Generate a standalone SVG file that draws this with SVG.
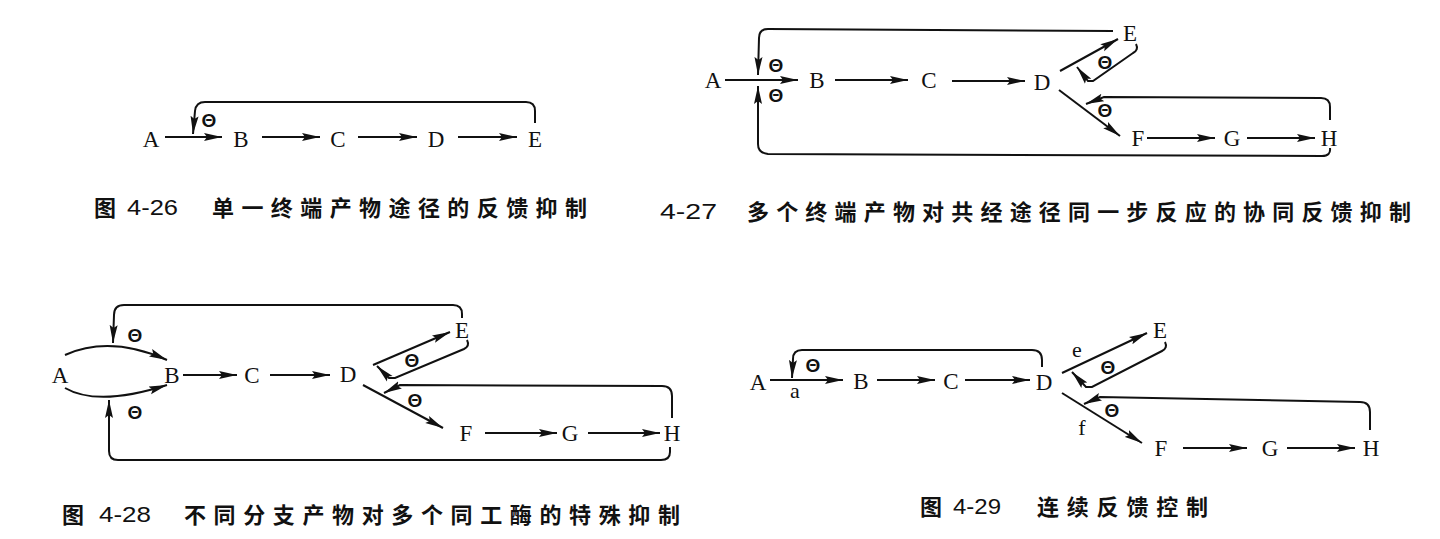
<svg xmlns="http://www.w3.org/2000/svg" width="1440" height="539" viewBox="0 0 1440 539">
<defs>
<style>
.n{font-family:"Liberation Serif","Times New Roman",serif;font-size:23px;fill:#111;text-anchor:middle}
.s{font-family:"Liberation Serif","Times New Roman",serif;font-size:22px;fill:#111;text-anchor:middle}
.th{font-family:"Liberation Sans",Arial,sans-serif;font-size:19px;font-weight:bold;fill:#111;text-anchor:middle}
.c{stroke:#111;stroke-width:2;fill:none;marker-end:url(#ah)}
.cap{font-family:"Noto Sans CJK SC","Noto Sans",sans-serif;font-size:22px;font-weight:bold;fill:#111}
.num{font-family:"Liberation Sans",Arial,sans-serif;font-size:22px;fill:#111}
</style>
<marker id="ah" viewBox="0 0 18 9" refX="18" refY="4.5" markerWidth="18" markerHeight="9" markerUnits="userSpaceOnUse" orient="auto">
<path d="M0,0.5 L18,4.5 L0,8.5 L3,4.5 z" fill="#111"/>
</marker>
</defs>
<rect width="1440" height="539" fill="#fff"/>

<!-- Diagram 4-26 -->
<g id="fig26">
<g id="f26-A"><text class="n" x="151" y="147">A</text></g>
<g id="f26-B"><text class="n" x="241" y="147">B</text></g>
<g id="f26-C"><text class="n" x="338" y="147">C</text></g>
<g id="f26-D"><text class="n" x="436" y="147">D</text></g>
<g id="f26-E"><text class="n" x="535" y="147">E</text></g>
<g id="f26-connectors">
<path class="c" d="M165,137 L222,137"/>
<path class="c" d="M262,137 L320,137"/>
<path class="c" d="M358,137 L417,137"/>
<path class="c" d="M458,137 L517,137"/>
<path class="c" d="M535,123 V111 Q535,102 526,102 H205 Q196,102 195,111 L193,134"/>
<text class="th" x="209" y="127">Θ</text>
</g>
<text class="cap" x="94" y="216">图</text>
<text class="num" x="127" y="215" textLength="51" lengthAdjust="spacingAndGlyphs">4-26</text>
<text class="cap" x="212" y="216" textLength="375" lengthAdjust="spacing">单一终端产物途径的反馈抑制</text>
</g>

<!-- Diagram 4-27 -->
<g id="fig27">
<g id="f27-A"><text class="n" x="713" y="88">A</text></g>
<g id="f27-B"><text class="n" x="817" y="88">B</text></g>
<g id="f27-C"><text class="n" x="929" y="88">C</text></g>
<g id="f27-D"><text class="n" x="1042" y="90">D</text></g>
<g id="f27-E"><text class="n" x="1130" y="41">E</text></g>
<g id="f27-F"><text class="n" x="1138" y="146">F</text></g>
<g id="f27-G"><text class="n" x="1232" y="146">G</text></g>
<g id="f27-H"><text class="n" x="1329" y="146">H</text></g>
<g id="f27-connectors">
<path class="c" d="M725,80 L798,80"/>
<path class="c" d="M835,80 L908,80"/>
<path class="c" d="M952,81 L1025,81"/>
<path class="c" d="M1113,31 L768,29 Q759,29 759,38 L758,75"/>
<path class="c" d="M1330,148 Q1331,156 1322,156 L768,154 Q758,153 758,144 V86"/>
<text class="th" x="776" y="72">Θ</text>
<text class="th" x="776" y="102">Θ</text>
<path class="c" d="M1060,71 L1118,39"/>
<path class="c" d="M1136,44 Q1139,50 1133,53 L1093,81 L1088,81 L1077,67"/>
<text class="th" x="1105" y="69">Θ</text>
<path class="c" d="M1059,90 L1120,136"/>
<path class="c" d="M1330,120 V107 Q1330,98 1321,98 L1104,97 L1086,104"/>
<text class="th" x="1105" y="117">Θ</text>
<path class="c" d="M1147,138 L1215,138"/>
<path class="c" d="M1247,138 L1315,138"/>
</g>
<text class="num" x="660" y="219" textLength="57" lengthAdjust="spacingAndGlyphs">4-27</text>
<text class="cap" x="747" y="220" textLength="664" lengthAdjust="spacing">多个终端产物对共经途径同一步反应的协同反馈抑制</text>
</g>

<!-- Diagram 4-28 -->
<g id="fig28">
<g id="f28-A"><text class="n" x="60" y="383">A</text></g>
<g id="f28-B"><text class="n" x="172" y="383">B</text></g>
<g id="f28-C"><text class="n" x="252" y="383">C</text></g>
<g id="f28-D"><text class="n" x="348" y="382">D</text></g>
<g id="f28-E"><text class="n" x="462" y="338">E</text></g>
<g id="f28-F"><text class="n" x="466" y="441">F</text></g>
<g id="f28-G"><text class="n" x="570" y="441">G</text></g>
<g id="f28-H"><text class="n" x="672" y="441">H</text></g>
<g id="f28-connectors">
<path class="c" d="M65,355 Q110,335 167,360"/>
<path class="c" d="M65,388 Q98,407 167,385"/>
<path class="c" d="M462,318 V314 Q462,305 453,305 L124,305 Q114,305 114,315 L113,343"/>
<path class="c" d="M670,447 V452 Q670,460 661,460 L118,460 Q109,460 109,451 L109,400"/>
<text class="th" x="135" y="342">Θ</text>
<text class="th" x="135" y="419">Θ</text>
<path class="c" d="M183,375 L237,375"/>
<path class="c" d="M270,375 L330,375"/>
<path class="c" d="M373,365 L450,332"/>
<path class="c" d="M467,340 Q470,346 464,349 L395,378 L389,378 L377,366"/>
<text class="th" x="412" y="367">Θ</text>
<path class="c" d="M363,385 L443,428"/>
<path class="c" d="M672,418 V396 Q672,386 662,386 L400,385 L384,393"/>
<text class="th" x="415" y="407">Θ</text>
<path class="c" d="M485,433 L557,433"/>
<path class="c" d="M588,433 L660,433"/>
</g>
<text class="cap" x="62" y="523">图</text>
<text class="num" x="99" y="522" textLength="52" lengthAdjust="spacingAndGlyphs">4-28</text>
<text class="cap" x="184" y="523" textLength="496" lengthAdjust="spacing">不同分支产物对多个同工酶的特殊抑制</text>
</g>

<!-- Diagram 4-29 -->
<g id="fig29">
<g id="f29-A"><text class="n" x="758" y="390">A</text></g>
<g id="f29-B"><text class="n" x="861" y="389">B</text></g>
<g id="f29-C"><text class="n" x="951" y="389">C</text></g>
<g id="f29-D"><text class="n" x="1044" y="390">D</text></g>
<g id="f29-E"><text class="n" x="1160" y="338">E</text></g>
<g id="f29-F"><text class="n" x="1161" y="456">F</text></g>
<g id="f29-G"><text class="n" x="1270" y="456">G</text></g>
<g id="f29-H"><text class="n" x="1371" y="456">H</text></g>
<g id="f29-connectors">
<path class="c" d="M770,380 L843,380"/>
<path class="c" d="M1042,367 V360 Q1042,350 1032,350 L802,350 Q793,350 793,359 L792,378"/>
<text class="th" x="813" y="372">Θ</text>
<text class="s" x="795" y="398">a</text>
<path class="c" d="M877,380 L935,380"/>
<path class="c" d="M965,380 L1030,380"/>
<text class="s" x="1077" y="357">e</text>
<path class="c" d="M1062,373 L1147,333"/>
<path class="c" d="M1165,342 Q1168,348 1162,351 L1092,387 L1086,387 L1072,372"/>
<text class="th" x="1108" y="374">Θ</text>
<path class="c" d="M1062,393 L1142,443"/>
<text class="s" x="1082" y="435">f</text>
<path class="c" d="M1370,430 V412 Q1370,402 1360,402 L1100,397 L1084,404"/>
<text class="th" x="1112" y="417">Θ</text>
<path class="c" d="M1183,448 L1247,448"/>
<path class="c" d="M1287,448 L1355,448"/>
</g>
<text class="cap" x="920" y="515">图</text>
<text class="num" x="953" y="514" textLength="48" lengthAdjust="spacingAndGlyphs">4-29</text>
<text class="cap" x="1037" y="515" textLength="171" lengthAdjust="spacing">连续反馈控制</text>
</g>
</svg>
